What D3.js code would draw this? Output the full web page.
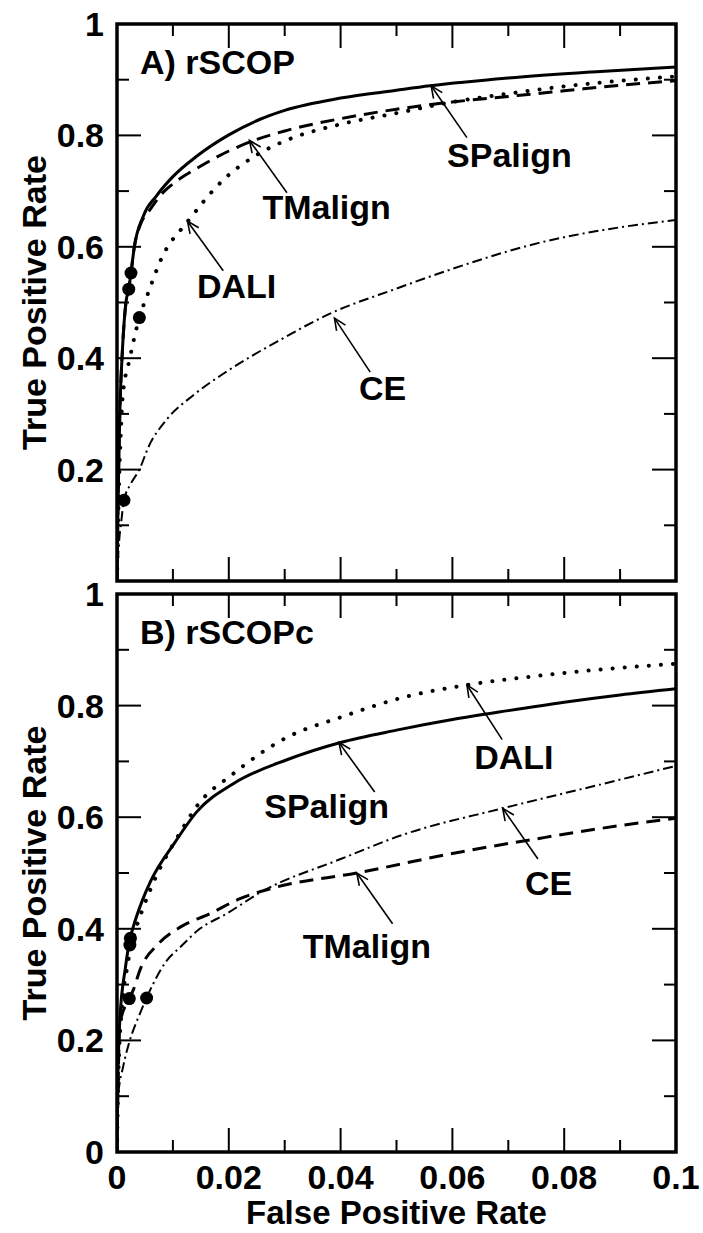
<!DOCTYPE html>
<html>
<head>
<meta charset="utf-8">
<script src="https://cdn.jsdelivr.net/npm/d3@7"></script>
<style>
  body { margin: 0; background: #fff; }
  svg text { font-family: "Liberation Sans", Arial, sans-serif; font-weight: bold; fill: #000; }
</style>
</head>
<body>
<svg id="chart" width="703" height="1233"></svg>
<script>
// tick values / labels
const xMajor = [0, 0.02, 0.04, 0.06, 0.08, 0.1];
const xMajorLabels = ['0', '0.02', '0.04', '0.06', '0.08', '0.1'];
const xMinor = [0.01, 0.03, 0.05, 0.07, 0.09];
const yMajor = [0, 0.2, 0.4, 0.6, 0.8, 1];
const yMajorLabels = ['0', '0.2', '0.4', '0.6', '0.8', '1'];
const yMinor = [0.1, 0.3, 0.5, 0.7, 0.9];

// panel A: rSCOP  [false positive rate, true positive rate]
const rscopSPalign = [[0, 0], [0.0002, 0.15], [0.0005, 0.3], [0.001, 0.42], [0.0016, 0.5], [0.0021, 0.525],
  [0.0025, 0.553], [0.0031, 0.6], [0.0047, 0.655], [0.0071, 0.692], [0.01, 0.726], [0.0143, 0.763],
  [0.02, 0.801], [0.0256, 0.829], [0.03, 0.845], [0.04, 0.867], [0.05, 0.881], [0.056, 0.889],
  [0.07, 0.903], [0.085, 0.914], [0.1, 0.923]];
const rscopTMalign = [[0, 0], [0.0002, 0.15], [0.0005, 0.3], [0.001, 0.42], [0.0016, 0.5], [0.0021, 0.525],
  [0.0025, 0.553], [0.0031, 0.6], [0.004, 0.635], [0.006, 0.668], [0.008, 0.695], [0.01, 0.713],
  [0.015, 0.745], [0.02, 0.772], [0.024, 0.789], [0.03, 0.808], [0.04, 0.83], [0.05, 0.847],
  [0.06, 0.86], [0.07, 0.87], [0.08, 0.88], [0.09, 0.89], [0.1, 0.898]];
const rscopDALI = [[0, 0], [0.0003, 0.15], [0.0007, 0.27], [0.001, 0.33], [0.0023, 0.4], [0.004, 0.473],
  [0.0055, 0.515], [0.008, 0.58], [0.0127, 0.646], [0.019, 0.72], [0.025, 0.765], [0.03, 0.79],
  [0.04, 0.82], [0.05, 0.84], [0.06, 0.86], [0.07, 0.875], [0.08, 0.888], [0.09, 0.898], [0.1, 0.906]];
const rscopCE = [[0, 0], [0.0003, 0.06], [0.0008, 0.11], [0.00125, 0.145], [0.0025, 0.175], [0.004, 0.2],
  [0.0056, 0.24], [0.0089, 0.29], [0.0137, 0.334], [0.0196, 0.376], [0.0292, 0.433], [0.0381, 0.48],
  [0.05, 0.525], [0.059, 0.557], [0.0755, 0.607], [0.09, 0.635], [0.1, 0.648]];
const rscopDots = [[0.0025, 0.553], [0.0021, 0.524], [0.004, 0.473], [0.00125, 0.145]];

// panel B: rSCOPc
const rscopcSPalign = [[0, 0], [0.0001, 0.1], [0.0005, 0.236], [0.0015, 0.33], [0.0024, 0.385],
  [0.0029, 0.403], [0.0045, 0.45], [0.006, 0.485], [0.0103, 0.554], [0.0143, 0.61], [0.0208, 0.66],
  [0.0304, 0.703], [0.04, 0.734], [0.05, 0.756], [0.06, 0.775], [0.07, 0.791], [0.08, 0.806],
  [0.09, 0.819], [0.1, 0.83]];
const rscopcTMalign = [[0, 0], [0.0002, 0.12], [0.0005, 0.23], [0.0022, 0.275], [0.0029, 0.29],
  [0.0041, 0.326], [0.0074, 0.373], [0.0113, 0.403], [0.0166, 0.427], [0.022, 0.454], [0.0286, 0.475],
  [0.0429, 0.5], [0.06, 0.535], [0.0755, 0.562], [0.09, 0.585], [0.1, 0.598]];
const rscopcDALI = [[0, 0], [0.0002, 0.12], [0.0008, 0.25], [0.0018, 0.33], [0.0031, 0.39], [0.0047, 0.438],
  [0.0071, 0.496], [0.0111, 0.569], [0.0143, 0.62], [0.0208, 0.678], [0.0304, 0.743], [0.04, 0.779],
  [0.0513, 0.815], [0.0626, 0.837], [0.075, 0.853], [0.088, 0.866], [0.1, 0.875]];
const rscopcCE = [[0, 0], [0.0002, 0.1], [0.0011, 0.153], [0.0023, 0.2], [0.0041, 0.248], [0.0065, 0.302],
  [0.0089, 0.343], [0.0113, 0.367], [0.0148, 0.4], [0.0196, 0.427], [0.0256, 0.465], [0.04, 0.525],
  [0.0513, 0.569], [0.069, 0.616], [0.085, 0.655], [0.1, 0.692]];
const rscopcDots = [[0.0024, 0.383], [0.0023, 0.371], [0.0022, 0.275], [0.0053, 0.276]];

// curve labels: text, label centre, arrow start, arrow tip (data units)
const rscopNotes = [
  ['SPalign', 0.0702, 0.764, 0.0626, 0.796, 0.0562, 0.889],
  ['TMalign', 0.0375, 0.671, 0.0304, 0.697, 0.0237, 0.791],
  ['DALI', 0.0214, 0.53, 0.019, 0.557, 0.0126, 0.646],
  ['CE', 0.0475, 0.346, 0.0453, 0.375, 0.0389, 0.472],
];
const rscopcNotes = [
  ['DALI', 0.071, 0.707, 0.0689, 0.739, 0.0626, 0.837],
  ['SPalign', 0.0375, 0.62, 0.0461, 0.645, 0.0397, 0.734],
  ['CE', 0.0772, 0.482, 0.0753, 0.525, 0.069, 0.616],
  ['TMalign', 0.0447, 0.37, 0.0493, 0.409, 0.0429, 0.5],
];

const lineStyles = {
  SPalign: { width: 3, dash: null, cap: 'butt' },
  TMalign: { width: 3, dash: '14 8', cap: 'butt' },
  DALI: { width: 4, dash: '0.1 12', cap: 'round' },
  CE: { width: 2, dash: '10 4 2 4', cap: 'butt' },
};

const panels = [
  { title: 'A) rSCOP', top: 24, bottom: 581, xLabels: false,
    series: { SPalign: rscopSPalign, TMalign: rscopTMalign, DALI: rscopDALI, CE: rscopCE },
    dots: rscopDots, notes: rscopNotes, yLabelSkip0: true },
  { title: 'B) rSCOPc', top: 594, bottom: 1152, xLabels: true,
    series: { SPalign: rscopcSPalign, TMalign: rscopcTMalign, DALI: rscopcDALI, CE: rscopcCE },
    dots: rscopcDots, notes: rscopcNotes, yLabelSkip0: false },
];

const left = 117, right = 676;
const svg = d3.select('#chart');
const x = d3.scaleLinear().domain([0, 0.1]).range([left, right]);

panels.forEach((p, i) => {
  const y = d3.scaleLinear().domain([0, 1]).range([p.bottom, p.top]);
  const g = svg.append('g');

  g.append('clipPath').attr('id', 'clip' + i)
    .append('rect').attr('x', left).attr('y', p.top).attr('width', right - left).attr('height', p.bottom - p.top);

  // ticks, inside on all four sides
  const tickG = g.append('g').attr('stroke', '#000').attr('stroke-width', 2);
  const tick = (vals, len, horiz) => {
    vals.forEach((v) => {
      if (horiz) {
        tickG.append('line').attr('x1', x(v)).attr('x2', x(v)).attr('y1', p.bottom).attr('y2', p.bottom - len);
        tickG.append('line').attr('x1', x(v)).attr('x2', x(v)).attr('y1', p.top).attr('y2', p.top + len);
      } else {
        tickG.append('line').attr('y1', y(v)).attr('y2', y(v)).attr('x1', left).attr('x2', left + len);
        tickG.append('line').attr('y1', y(v)).attr('y2', y(v)).attr('x1', right).attr('x2', right - len);
      }
    });
  };
  tick(xMajor, 24, true);
  tick(xMinor, 12, true);
  tick(yMajor, 24, false);
  tick(yMinor, 12, false);

  // curves
  const line = d3.line().x((d) => x(d[0])).y((d) => y(d[1])).curve(d3.curveMonotoneX);
  const curves = g.append('g').attr('clip-path', `url(#clip${i})`);
  ['CE', 'DALI', 'TMalign', 'SPalign'].forEach((name) => {
    const s = lineStyles[name];
    curves.append('path')
      .attr('d', line(p.series[name]))
      .attr('fill', 'none')
      .attr('stroke', '#000')
      .attr('stroke-width', s.width)
      .attr('stroke-linecap', s.cap)
      .attr('stroke-dasharray', s.dash);
  });

  g.append('g').selectAll('circle').data(p.dots).join('circle')
    .attr('cx', (d) => x(d[0])).attr('cy', (d) => y(d[1])).attr('r', 6.5).attr('fill', '#000');

  // frame
  g.append('rect').attr('x', left).attr('y', p.top).attr('width', right - left).attr('height', p.bottom - p.top)
    .attr('fill', 'none').attr('stroke', '#000').attr('stroke-width', 3.5);

  // y tick labels
  yMajor.forEach((v, k) => {
    if (p.yLabelSkip0 && v === 0) return;
    g.append('text').attr('x', left - 13).attr('y', y(v) + 12).attr('text-anchor', 'end')
      .attr('font-size', 34).text(yMajorLabels[k]);
  });

  // y axis title
  g.append('text')
    .attr('transform', `translate(34,${(p.top + p.bottom) / 2}) rotate(-90)`)
    .attr('text-anchor', 'middle').attr('dy', 12).attr('font-size', 34)
    .text('True Positive Rate');

  // panel title
  g.append('text').attr('x', left + 23).attr('y', p.top + 50).attr('font-size', 34).text(p.title);

  // curve labels with arrows
  p.notes.forEach(([txt, tx, ty, ax0, ay0, ax1, ay1]) => {
    g.append('text').attr('x', x(tx)).attr('y', y(ty) + 12).attr('text-anchor', 'middle')
      .attr('font-size', 34).text(txt);
    const x0 = x(ax0), y0 = y(ay0), x1 = x(ax1), y1 = y(ay1);
    const ang = Math.atan2(y1 - y0, x1 - x0);
    const h = 13, spread = 0.42;
    const arrow = g.append('g').attr('stroke', '#000').attr('stroke-width', 1.6).attr('fill', 'none');
    arrow.append('line').attr('x1', x0).attr('y1', y0).attr('x2', x1).attr('y2', y1);
    arrow.append('path').attr('d',
      `M${x1 - h * Math.cos(ang - spread)},${y1 - h * Math.sin(ang - spread)}L${x1},${y1}` +
      `L${x1 - h * Math.cos(ang + spread)},${y1 - h * Math.sin(ang + spread)}`);
  });

  if (p.xLabels) {
    xMajor.forEach((v, k) => {
      g.append('text').attr('x', x(v)).attr('y', p.bottom + 37).attr('text-anchor', 'middle')
        .attr('font-size', 34).text(xMajorLabels[k]);
    });
    g.append('text').attr('x', (left + right) / 2).attr('y', p.bottom + 72).attr('text-anchor', 'middle')
      .attr('font-size', 33).text('False Positive Rate');
  }
});
</script>
</body>
</html>
